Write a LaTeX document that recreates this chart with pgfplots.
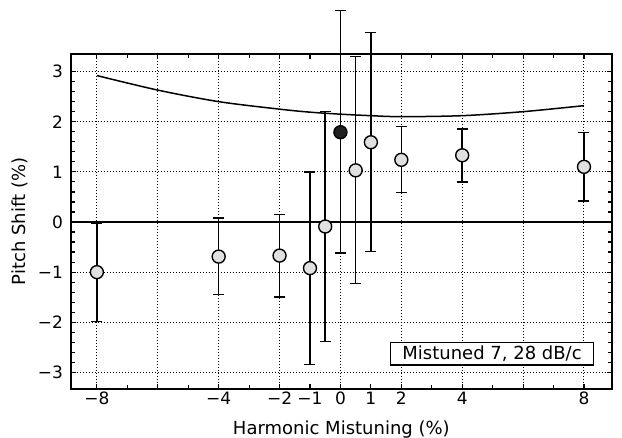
\documentclass[border=0pt]{standalone}
\usepackage{fontspec}
\setmainfont{DejaVu Sans}
\usepackage{pgfplots}
\usepackage{pgfplotstable}
\pgfplotsset{compat=1.18}

\pgfplotstableread{
x     y      ep    em
-8   -1.00   0.98  0.98
-4   -0.69   0.77  0.76
-2   -0.67   0.82  0.83
-1   -0.92   1.92  1.92
-0.5 -0.09   2.29  2.29
0.5   1.03   2.27  2.26
1     1.59   2.19  2.18
2     1.24   0.66  0.65
4     1.33   0.52  0.53
8     1.10   0.68  0.68
}\mistuned

\pgfplotstableread{
x   y     ep    em
0   1.79  2.43  2.41
}\filled

\pgfplotstableread{
x   y
-8  2.92
-6  2.63
-4  2.40
-2  2.25
-1  2.19
0   2.15
1   2.12
2   2.10
4   2.12
6   2.20
8   2.32
}\curve

\begin{document}
\begin{tikzpicture}
\begin{axis}[
  scale only axis,
  width=541.3pt, height=335pt,
  xmin=-8.86, xmax=8.92,
  ymin=-3.33, ymax=3.35,
  clip=false,
  axis line style={line width=1.8pt},
  xtick={-8,-6,...,8},
  xticklabels={−8,,−4,−2,0,2,4,,8},
  extra x ticks={-1,1},
  extra x tick labels={−1,1},
  extra x tick style={grid=none},
  minor xtick={-7,-5,-3,-1,1,3,5,7},
  ytick={-3,-2,...,3},
  yticklabels={−3,−2,−1,0,1,2,3},
  minor y tick num=4,
  tick align=inside,
  ticks=both,
  major tick length=5pt,
  minor tick length=4pt,
  tick style={line width=1.2pt, black},
  grid=major,
  major grid style={line width=1pt, dash pattern=on 1pt off 2pt, black},
  xticklabel style={font=\fontsize{17}{17}\selectfont, anchor=base, inner sep=0pt, yshift=-16pt},
  yticklabel style={font=\fontsize{17}{17}\selectfont, anchor=east, inner sep=0pt, xshift=-7.5pt},
  xlabel={Harmonic Mistuning (\%)},
  ylabel={Pitch Shift (\%)},
  xlabel style={font=\fontsize{18}{18}\selectfont, at={(axis description cs:0.5,0)}, anchor=base, yshift=-46pt},
  ylabel style={font=\fontsize{18}{18}\selectfont, at={(axis description cs:-0.0937,0.5)}, anchor=center, rotate=0},
]
\addplot [black, line width=1.1pt] coordinates {(-8.86,0) (8.92,0)};
\addplot [black, line width=1.5pt, smooth, tension=0.5] table [x=x, y=y] {\curve};
\addplot [only marks, mark=*, mark size=6.5pt,
  mark options={fill=black!12, draw=black, line width=1.4pt},
  error bars/.cd, y dir=both, y explicit,
  error bar style={line width=1.5pt, black},
  error mark options={line width=1.5pt, mark size=5.5pt, black, rotate=90}]
  table [x=x, y=y, y error plus=ep, y error minus=em] {\mistuned};
\addplot [only marks, mark=*, mark size=6.5pt,
  mark options={fill=black!88, draw=black, line width=1.4pt},
  error bars/.cd, y dir=both, y explicit,
  error bar style={line width=1.5pt, black},
  error mark options={line width=1.5pt, mark size=5.5pt, black, rotate=90}]
  table [x=x, y=y, y error plus=ep, y error minus=em] {\filled};
\node [draw=black, line width=1.3pt, fill=white, minimum width=202.6pt, minimum height=22.4pt, inner sep=0pt,
  font=\fontsize{18}{18}\selectfont] at (axis cs:4.98,-2.63) {Mistuned 7, 28 dB/c};
\end{axis}
\pgfresetboundingbox
\path (current axis.south west) ++(-70.7pt,-49pt) rectangle ++(622pt,438pt);
\end{tikzpicture}
\end{document}
